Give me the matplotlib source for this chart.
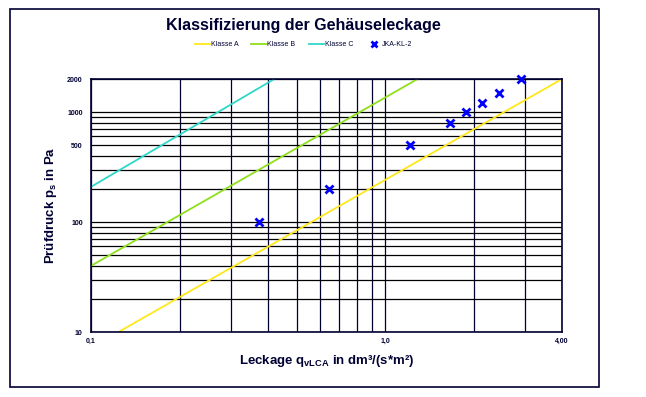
import numpy as np
import matplotlib
matplotlib.use('Agg')
import matplotlib.pyplot as plt
import matplotlib.patches as mpatches
from matplotlib.ticker import LogLocator, NullFormatter

plt.rcParams['font.family'] = ['Liberation Sans', 'DejaVu Sans']
plt.rcParams['mathtext.fontset'] = 'custom'
plt.rcParams['mathtext.rm'] = 'Liberation Sans:bold'
plt.rcParams['mathtext.it'] = 'Liberation Sans:bold'
plt.rcParams['mathtext.bf'] = 'Liberation Sans:bold'

# class limit lines (endpoints)
klasse_a_q = [0.124, 4.0]
klasse_a_p = [10, 2000]
klasse_b_q = [0.1, 1.29]
klasse_b_p = [40, 2000]
klasse_c_q = [0.1, 0.42]
klasse_c_p = [209, 2000]

# measured points JKA-KL-2
mess_q = [0.372, 0.647, 1.22, 1.66, 1.89, 2.13, 2.45, 2.90]
mess_p = [100, 200, 500, 800, 1000, 1200, 1500, 2000]

x_ticks = [0.1, 1.0, 4.0]
x_ticklabels = ['0,1', '1,0', '4,00']
y_ticks = [10, 100, 500, 1000, 2000]
y_ticklabels = ['10', '100', '500', '1000', '2000']

navy = '#000033'

fig = plt.figure(figsize=(6.46, 3.97), dpi=100)
ax = fig.add_axes([0.1409, 0.1637, 0.7291, 0.6373])

ax.set_xscale('log')
ax.set_yscale('log')
ax.set_xlim(0.1, 4.0)
ax.set_ylim(10, 2000)

ax.xaxis.set_minor_locator(LogLocator(base=10, subs=np.arange(2, 10)))
ax.yaxis.set_minor_locator(LogLocator(base=10, subs=np.arange(2, 10)))
ax.xaxis.set_minor_formatter(NullFormatter())
ax.yaxis.set_minor_formatter(NullFormatter())
ax.grid(which='both', axis='y', color='black', lw=0.9)
ax.grid(which='both', axis='x', color='#000030', lw=0.9)
ax.set_axisbelow(True)

ax.plot(klasse_a_q, klasse_a_p, color='#FFE81A', lw=1.3, label='Klasse A')
ax.plot(klasse_b_q, klasse_b_p, color='#8FE01A', lw=1.3, label='Klasse B')
ax.plot(klasse_c_q, klasse_c_p, color='#2ED8C8', lw=1.3, label='Klasse C')
ax.plot(mess_q, mess_p, ls='none', marker='x', ms=6, mew=2, color='#0000FF',
        label='JKA-KL-2', clip_on=False, zorder=5)

ax.set_xticks(x_ticks)
ax.set_xticklabels(x_ticklabels)
ax.set_yticks(y_ticks)
ax.set_yticklabels(y_ticklabels)
ax.tick_params(which='both', length=0, labelsize=5, colors=navy)
ax.tick_params(axis='x', pad=4)
ax.tick_params(axis='y', pad=6)
for lab in ax.get_xticklabels() + ax.get_yticklabels():
    lab.set_fontweight('bold')

for sp in ax.spines.values():
    sp.set_color(navy)
    sp.set_linewidth(1.2)

ax.set_xlabel('Leckage $q_{vLCA}$ in dm³/(s*m²)', fontsize=9.5,
              fontweight='bold', color=navy, labelpad=6)
ax.set_ylabel('Prüfdruck $p_s$ in Pa', fontsize=9.5, fontweight='bold',
              color=navy, labelpad=6)

fig.text(0.469, 0.936, 'Klassifizierung der Gehäuseleckage', ha='center',
         va='center', fontsize=11.5, fontweight='bold', color=navy)

leg = fig.legend(loc='center', bbox_to_anchor=(0.47, 0.887), ncol=4,
                 frameon=False, fontsize=5, handlelength=2.2,
                 handletextpad=0.1, columnspacing=1.9, markerscale=0.7)
for t in leg.get_texts():
    t.set_color(navy)

# outer frame
fig.patches.append(mpatches.Rectangle((10 / 646, 1 - 387 / 397), 589 / 646,
                                      378 / 397, transform=fig.transFigure,
                                      fill=False, edgecolor=navy, lw=1.2))

fig.savefig('out.png', dpi=100)
